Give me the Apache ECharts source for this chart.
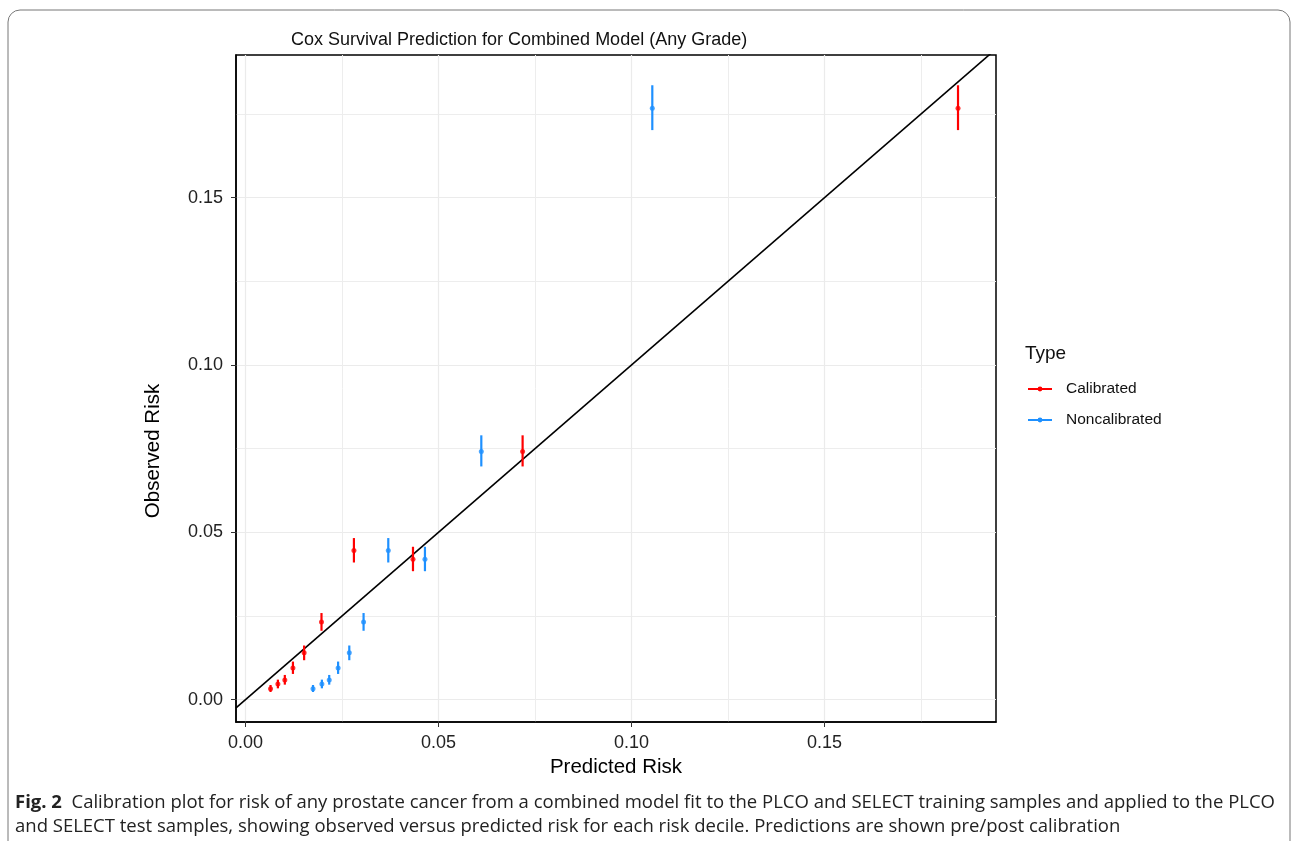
<!DOCTYPE html>
<html>
<head>
<meta charset="utf-8">
<script src="https://cdn.jsdelivr.net/npm/echarts@6/dist/echarts.min.js"></script>
<style>
  html, body { margin: 0; padding: 0; background: #fff; }
  #main { width: 1295px; height: 841px; }
</style>
</head>
<body>
<div id="main"></div>
<script>
// predicted risk per decile, before / after calibration
var predCalibrated = [0.0065, 0.0084, 0.0102, 0.0123, 0.0152, 0.0197, 0.0281, 0.0434, 0.0718, 0.1846];
var predNoncalibrated = [0.0175, 0.0198, 0.0217, 0.0240, 0.0269, 0.0306, 0.0370, 0.0465, 0.0611, 0.1054];
// observed risk per decile with its interval
var observed = [0.0033, 0.0047, 0.0059, 0.0095, 0.0140, 0.0232, 0.0446, 0.0420, 0.0742, 0.1767];
var observedLow = [0.0023, 0.0034, 0.0045, 0.0077, 0.0118, 0.0206, 0.0410, 0.0384, 0.0697, 0.1702];
var observedHigh = [0.0044, 0.0060, 0.0074, 0.0114, 0.0162, 0.0259, 0.0483, 0.0457, 0.0790, 0.1836];

var majorTicks = [0, 0.05, 0.10, 0.15];
var minorTicks = [0.025, 0.075, 0.125, 0.175];
var xRange = [-0.00245, 0.19444];
var yRange = [-0.00666, 0.19264];

var typeNames = ['Calibrated', 'Noncalibrated'];
var typeColors = ['#FF0000', '#1E90FF'];

var myChart = echarts.init(document.getElementById('main'));

function rows(pred) {
    return pred.map(function (x, i) { return [x, observedLow[i], observedHigh[i], observed[i]]; });
}

// vertical error bar from low to high
function renderBar(params, api) {
    var x = api.value(0);
    var p1 = api.coord([x, api.value(1)]);
    var p2 = api.coord([x, api.value(2)]);
    return {
        type: 'line',
        shape: { x1: p1[0], y1: p1[1], x2: p2[0], y2: p2[1] },
        style: { stroke: api.visual('color'), lineWidth: 2.2 }
    };
}

var font = '"Liberation Sans", Arial, sans-serif';
var legendIcon = 'path://M0,2h24v2h-24z M12,0.6a2.4,2.4 0 1,1 0,4.8a2.4,2.4 0 1,1 0,-4.8z';

var series = [];
[predCalibrated, predNoncalibrated].forEach(function (pred, k) {
    series.push({
        name: typeNames[k],
        type: 'custom',
        renderItem: renderBar,
        itemStyle: { color: typeColors[k] },
        encode: { x: 0, y: [1, 2] },
        data: rows(pred),
        z: 3
    });
    series.push({
        name: typeNames[k],
        type: 'scatter',
        symbolSize: 5,
        itemStyle: { color: typeColors[k] },
        data: pred.map(function (x, i) { return [x, observed[i]]; }),
        z: 4
    });
});
// y = x reference line
series.push({
    type: 'line',
    data: [[xRange[0], xRange[0]], [xRange[1], xRange[1]]],
    symbol: 'none',
    clip: true,
    lineStyle: { color: '#000', width: 1.6 },
    z: 2
});

var option = {
    animation: false,
    title: {
        text: 'Cox Survival Prediction for Combined Model (Any Grade)',
        left: 286,
        top: 26,
        textStyle: { fontFamily: font, fontSize: 18, fontWeight: 'normal', color: '#111' }
    },
    legend: {
        orient: 'vertical',
        left: 1023,
        top: 375,
        itemWidth: 24,
        itemHeight: 6,
        itemGap: 13,
        data: typeNames.map(function (n) { return { name: n, icon: legendIcon }; }),
        textStyle: { fontFamily: font, fontSize: 15.5, color: '#111', lineHeight: 18, padding: [0, 0, 0, 9] }
    },
    grid: {
        left: 236, top: 55, right: 299, bottom: 119,
        show: true, borderColor: '#000', borderWidth: 1.5
    },
    xAxis: [{
        type: 'value',
        min: xRange[0], max: xRange[1],
        name: 'Predicted Risk',
        nameLocation: 'middle',
        nameGap: 32,
        nameTextStyle: { fontFamily: font, fontSize: 20.5, color: '#000' },
        axisLine: { show: true, onZero: false, lineStyle: { color: '#000', width: 1.5 } },
        axisTick: { show: true, length: 5, customValues: majorTicks, lineStyle: { color: '#333' } },
        axisLabel: {
            customValues: majorTicks, margin: 12,
            fontFamily: font, fontSize: 18, color: '#222',
            formatter: function (v) { return v.toFixed(2); }
        },
        splitLine: { show: true, lineStyle: { color: '#EBEBEB', width: 1.2 } }
    }, {
        type: 'value',
        min: xRange[0], max: xRange[1],
        axisLine: { show: false },
        axisTick: { show: false, customValues: minorTicks },
        axisLabel: { show: false },
        splitLine: { show: true, lineStyle: { color: '#EDEDED', width: 1 } }
    }],
    yAxis: [{
        type: 'value',
        min: yRange[0], max: yRange[1],
        axisLine: { show: true, onZero: false, lineStyle: { color: '#000', width: 1.5 } },
        axisTick: { show: true, length: 5, customValues: majorTicks, lineStyle: { color: '#333' } },
        axisLabel: {
            customValues: majorTicks, margin: 13,
            fontFamily: font, fontSize: 18, color: '#222',
            formatter: function (v) { return v.toFixed(2); }
        },
        splitLine: { show: true, lineStyle: { color: '#EBEBEB', width: 1.2 } }
    }, {
        type: 'value',
        min: yRange[0], max: yRange[1],
        axisLine: { show: false },
        axisTick: { show: false, customValues: minorTicks },
        axisLabel: { show: false },
        splitLine: { show: true, lineStyle: { color: '#EDEDED', width: 1 } }
    }],
    graphic: [
        {
            type: 'rect',
            shape: { x: 8, y: 10, width: 1282, height: 870, r: 12 },
            style: { fill: 'none', stroke: '#777', lineWidth: 1 },
            silent: true
        },
        {
            type: 'text',
            x: 153, y: 451,
            rotation: Math.PI / 2,
            style: {
                text: 'Observed Risk', font: '20.5px ' + font, fill: '#000',
                align: 'center', verticalAlign: 'middle'
            }
        },
        {
            type: 'text',
            left: 1025, top: 344,
            style: { text: 'Type', font: '19px ' + font, fill: '#111' }
        },
        {
            type: 'text',
            left: 15, top: 791,
            style: {
                text: '{b|Fig. 2}  Calibration plot for risk of any prostate cancer from a combined model fit to the PLCO and SELECT training samples and applied to the PLCO\nand SELECT test samples, showing observed versus predicted risk for each risk decile. Predictions are shown pre/post calibration',
                font: '18.5px "Open Sans", sans-serif',
                fill: '#222',
                lineHeight: 24,
                rich: {
                    b: { font: 'bold 18.5px "Open Sans", sans-serif', fill: '#222' }
                }
            }
        }
    ],
    series: series
};

myChart.setOption(option);
</script>
</body>
</html>
